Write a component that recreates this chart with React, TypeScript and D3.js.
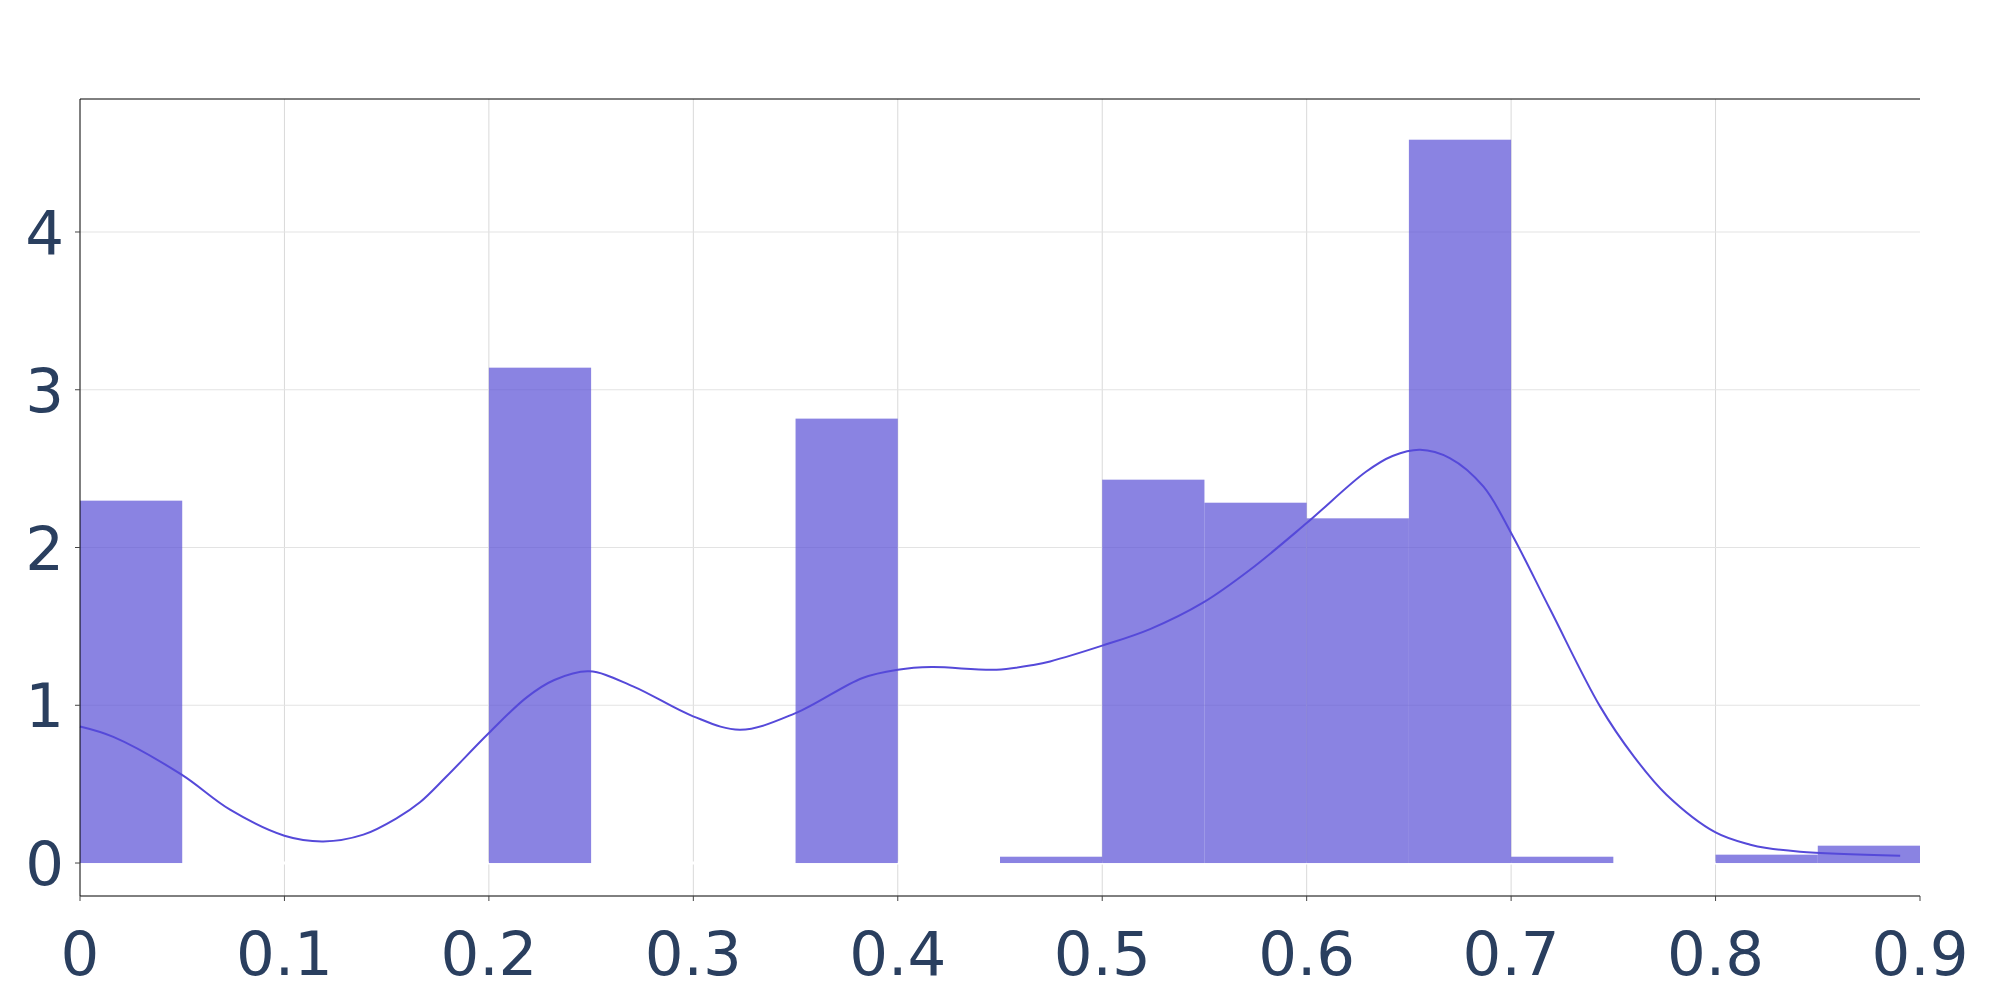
import React from "react";
import * as d3 from "d3";

const binStarts = [0, 0.2, 0.35, 0.45, 0.5, 0.55, 0.6, 0.65, 0.7, 0.8, 0.85];
const binHeights = [2.297, 3.14, 2.817, 0.04, 2.43, 2.284, 2.185, 4.585, 0.04, 0.053, 0.11];
const binWidth = 0.05;

const kdeX = [0, 0.0163, 0.0497, 0.0734, 0.1, 0.119, 0.1386, 0.155, 0.1663, 0.179, 0.2, 0.2185, 0.232, 0.249, 0.2705, 0.2999, 0.3229, 0.35, 0.3828, 0.4, 0.4165, 0.4483, 0.467, 0.4745, 0.5, 0.5234, 0.5495, 0.5723, 0.6, 0.629, 0.642, 0.6555, 0.67, 0.6864, 0.7, 0.719, 0.7435, 0.76, 0.776, 0.8, 0.817, 0.825, 0.8413, 0.8903];
const kdeY = [0.866, 0.8, 0.56, 0.338, 0.173, 0.137, 0.18, 0.285, 0.385, 0.545, 0.824, 1.05, 1.16, 1.215, 1.12, 0.93, 0.845, 0.95, 1.173, 1.225, 1.242, 1.225, 1.257, 1.278, 1.378, 1.483, 1.652, 1.859, 2.155, 2.48, 2.58, 2.62, 2.567, 2.387, 2.092, 1.61, 0.993, 0.676, 0.433, 0.194, 0.116, 0.095, 0.072, 0.046];

const xTicks = [0, 0.1, 0.2, 0.3, 0.4, 0.5, 0.6, 0.7, 0.8, 0.9];
const xTickLabels = ["0", "0.1", "0.2", "0.3", "0.4", "0.5", "0.6", "0.7", "0.8", "0.9"];
const yTicks = [0, 1, 2, 3, 4];
const yTickLabels = ["0", "1", "2", "3", "4"];

const W = 2000;
const H = 1000;
const left = 80;
const right = 1920;
const top = 99;
const bottom = 896;

export default function App() {
  const x = d3.scaleLinear().domain([0, 0.9]).range([left, right]);
  const y = d3.scaleLinear().domain([-0.209, 4.843]).range([bottom, top]);
  const line = d3
    .line<number>()
    .x((_, i) => x(kdeX[i]))
    .y((d) => y(d))
    .curve(d3.curveCatmullRom.alpha(0.5));
  const labelColor = "#2a3f5f";
  const font = "'DejaVu Sans', sans-serif";
  return (
    <svg
      width={W}
      height={H}
      style={{ position: "absolute", left: 0, top: 0, background: "#fff" }}
    >
      <rect x={0} y={0} width={W} height={H} fill="#fff" />
      {xTicks.slice(1, -1).map((t) => (
        <line key={"gx" + t} x1={x(t)} x2={x(t)} y1={top} y2={bottom} stroke="#d9d9d9" strokeWidth={1} />
      ))}
      {yTicks.map((t) => (
        <line key={"gy" + t} x1={left} x2={right} y1={y(t)} y2={y(t)} stroke="#e3e3e3" strokeWidth={1.2} />
      ))}
      <line x1={left} x2={right} y1={y(0)} y2={y(0)} stroke="#fff" strokeWidth={3} />
      {binStarts.map((b, i) => (
        <rect
          key={"b" + i}
          x={x(b)}
          width={x(b + binWidth) - x(b)}
          y={y(binHeights[i])}
          height={y(0) - y(binHeights[i])}
          fill="#584fd6"
          fillOpacity={0.7}
        />
      ))}
      <path d={line(kdeY) || ""} fill="none" stroke="#5549d9" strokeWidth={2} />
      <line x1={left} x2={left} y1={top} y2={bottom} stroke="#000" strokeWidth={1} />
      <line x1={left} x2={right} y1={top} y2={top} stroke="#000" strokeWidth={1} />
      <line x1={left} x2={right} y1={bottom} y2={bottom} stroke="#000" strokeWidth={1} />
      {xTicks.map((t, i) => (
        <g key={"xt" + t}>
          <line x1={x(t)} x2={x(t)} y1={bottom} y2={bottom + 5} stroke="#444" strokeWidth={1} />
          <text x={x(t)} y={975} textAnchor="middle" fontSize={61} fontFamily={font} fill={labelColor}>
            {xTickLabels[i]}
          </text>
        </g>
      ))}
      {yTicks.map((t, i) => (
        <g key={"yt" + t}>
          <line x1={left - 5} x2={left} y1={y(t)} y2={y(t)} stroke="#444" strokeWidth={1} />
          <text x={64} y={y(t) + 22} textAnchor="end" fontSize={61} fontFamily={font} fill={labelColor}>
            {yTickLabels[i]}
          </text>
        </g>
      ))}
    </svg>
  );
}
